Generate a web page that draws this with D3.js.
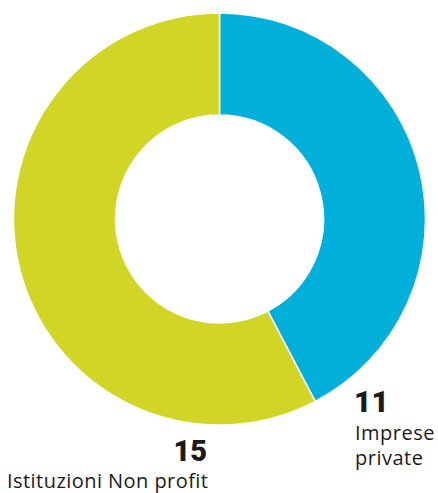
<!DOCTYPE html>
<html>
<head>
<meta charset="utf-8">
<script src="https://cdn.jsdelivr.net/npm/d3@7"></script>
<style>
  body { margin: 0; background: #fff; }
</style>
</head>
<body>
<div id="chart"></div>
<script>
// data
const categories = ["Imprese private", "Istituzioni Non profit"];
const values = [11, 15];
const colors = ["#00b0da", "#d1d626"];

const width = 438, height = 493;
const cx = 219.5, cy = 219, outerR = 206, innerR = 104;

const svg = d3.select("#chart")
    .append("svg")
    .attr("width", width)
    .attr("height", height);

const g = svg.append("g")
    .attr("transform", `translate(${cx},${cy})`);

const pie = d3.pie().sort(null)(values);
const arc = d3.arc().innerRadius(innerR).outerRadius(outerR);

g.selectAll("path")
    .data(pie)
    .enter()
    .append("path")
    .attr("d", arc)
    .attr("fill", (d, i) => colors[i])
    .attr("stroke", "#fff")
    .attr("stroke-width", 1.5);

// labels
const lab = svg.append("g").attr("fill", "#1a1a1a");

lab.append("text")
    .attr("x", 354).attr("y", 412)
    .attr("font-family", "Roboto")
    .attr("font-size", "30px").attr("font-weight", 900)
    .text(values[0]);
lab.append("text")
    .attr("x", 355).attr("y", 440)
    .attr("font-size", "20px").attr("font-family", "Open Sans")
    .attr("letter-spacing", "0.5px")
    .text("Imprese");
lab.append("text")
    .attr("x", 355).attr("y", 465)
    .attr("font-size", "20px").attr("font-family", "Open Sans")
    .attr("letter-spacing", "0.5px")
    .text("private");

lab.append("text")
    .attr("x", 207).attr("y", 461)
    .attr("text-anchor", "end")
    .attr("font-family", "Roboto")
    .attr("font-size", "29px").attr("font-weight", 900)
    .text(values[1]);
lab.append("text")
    .attr("x", 7).attr("y", 488)
    .attr("font-size", "20px").attr("font-family", "Open Sans")
    .attr("letter-spacing", "0.45px")
    .text(categories[1]);
</script>
</body>
</html>
